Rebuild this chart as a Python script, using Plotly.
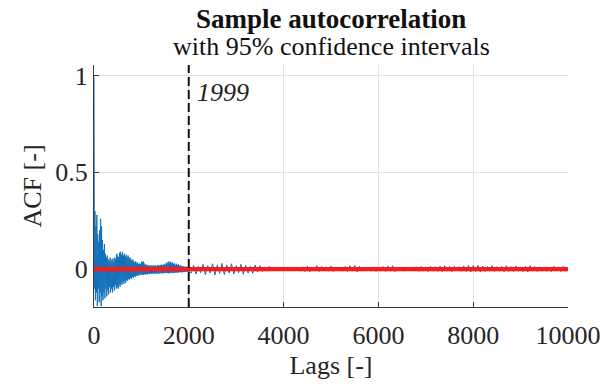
import plotly.graph_objects as go

# ---------------- data ----------------
# Sample ACF drawn as an envelope: upper / lower extreme per lag bin
lag_step_dense = 20
acf_hi_dense = [
    1.00, 0.30, 0.22, 0.28, 0.18, 0.14, 0.20, 0.26, 0.22, 0.15,
    0.10, 0.13, 0.08, 0.06, 0.07, 0.05, 0.04, 0.06, 0.05, 0.04,
    0.055, 0.04, 0.06, 0.05, 0.08, 0.07, 0.06, 0.085, 0.09, 0.075,
    0.09, 0.07, 0.08, 0.065, 0.075, 0.06, 0.07, 0.055, 0.06, 0.05,
    0.045, 0.05, 0.04, 0.035, 0.04, 0.03, 0.035, 0.025, 0.03, 0.025,
    0.04, 0.035, 0.04, 0.03, 0.02, 0.025, 0.018, 0.022, 0.016, 0.02,
    0.015, 0.02, 0.017, 0.02, 0.016, 0.02, 0.015, 0.019, 0.022, 0.018,
    0.02, 0.024, 0.02, 0.022, 0.026, 0.022, 0.03, 0.035, 0.028, 0.04,
    0.032, 0.038, 0.03, 0.035, 0.025, 0.03, 0.022, 0.028, 0.02, 0.025,
    0.018, 0.02, 0.016, 0.014, 0.016, 0.012, 0.014, 0.011, 0.013, 0.01,
    0.012,
]
acf_lo_dense = [
    -0.10, -0.16, -0.12, -0.19, -0.10, -0.17, -0.12, -0.19, -0.14, -0.16,
    -0.12, -0.15, -0.10, -0.14, -0.11, -0.13, -0.09, -0.12, -0.10, -0.12,
    -0.09, -0.11, -0.08, -0.10, -0.09, -0.10, -0.08, -0.09, -0.07, -0.08,
    -0.06, -0.075, -0.06, -0.07, -0.055, -0.06, -0.05, -0.055, -0.045, -0.05,
    -0.04, -0.045, -0.035, -0.04, -0.03, -0.035, -0.03, -0.032, -0.027, -0.03,
    -0.025, -0.03, -0.028, -0.025, -0.028, -0.024, -0.026, -0.022, -0.025, -0.022,
    -0.024, -0.02, -0.025, -0.022, -0.02, -0.024, -0.02, -0.023, -0.02, -0.022,
    -0.019, -0.022, -0.02, -0.021, -0.019, -0.02, -0.018, -0.02, -0.022, -0.018,
    -0.02, -0.017, -0.02, -0.018, -0.02, -0.016, -0.018, -0.016, -0.018, -0.015,
    -0.016, -0.014, -0.017, -0.014, -0.015, -0.013, -0.015, -0.012, -0.014, -0.012,
    -0.01,
]
lag_start_sparse = 2100
lag_step_sparse = 100
acf_hi_sparse = [
    0.02, 0.015, 0.025, 0.018, 0.028, 0.02, 0.03, 0.022, 0.028, 0.018,
    0.025, 0.02, 0.015, 0.022, 0.018, 0.012, 0.015,
    0.008, 0.006, 0.01, 0.007, 0.009, 0.008,
    0.012, 0.016, 0.01, 0.018, 0.014, 0.012, 0.016, 0.01, 0.008, 0.014,
    0.018, 0.02, 0.015, 0.012, 0.009, 0.008, 0.01, 0.014, 0.016, 0.018,
    0.012, 0.008, 0.01, 0.009, 0.012, 0.014, 0.012, 0.015, 0.013, 0.016,
    0.018, 0.014, 0.015, 0.013, 0.017, 0.02, 0.018, 0.02, 0.016, 0.014,
    0.018, 0.013, 0.015, 0.018, 0.014, 0.016, 0.012, 0.015, 0.018, 0.014,
    0.012, 0.01, 0.009, 0.015, 0.012, 0.014, 0.01,
]
acf_lo_sparse = [
    -0.02, -0.025, -0.018, -0.028, -0.02, -0.03, -0.022, -0.028, -0.02, -0.025,
    -0.018, -0.026, -0.02, -0.022, -0.015, -0.012, -0.01,
    -0.008, -0.007, -0.006, -0.009, -0.007, -0.008,
    -0.01, -0.012, -0.014, -0.01, -0.012, -0.009, -0.01, -0.012, -0.008, -0.01,
    -0.012, -0.01, -0.014, -0.01, -0.008, -0.01, -0.012, -0.01, -0.012, -0.01,
    -0.013, -0.009, -0.01, -0.008, -0.01, -0.011, -0.01, -0.012, -0.01, -0.011,
    -0.012, -0.01, -0.012, -0.009, -0.011, -0.012, -0.014, -0.012, -0.015, -0.012,
    -0.01, -0.012, -0.01, -0.013, -0.011, -0.012, -0.01, -0.012, -0.014, -0.01,
    -0.012, -0.01, -0.011, -0.013, -0.01, -0.012, -0.01,
]
conf_upper = 0.005
conf_lower = -0.005
max_lag = 10000
marked_lag = 1999
x_ticks = [0, 2000, 4000, 6000, 8000, 10000]
x_tick_text = ["0", "2000", "4000", "6000", "8000", "10000"]
y_ticks = [0, 0.5, 1]
y_tick_text = ["0", "0.5", "1"]

# ---------------- build envelope polyline ----------------
xs, ys = [], []
for i, (hi, lo) in enumerate(zip(acf_hi_dense, acf_lo_dense)):
    lag = i * lag_step_dense
    xs += [lag, lag + lag_step_dense / 2]
    ys += [hi, lo]
for i, (hi, lo) in enumerate(zip(acf_hi_sparse, acf_lo_sparse)):
    lag = lag_start_sparse + i * lag_step_sparse
    xs += [lag - lag_step_sparse / 2, lag]
    ys += [lo, hi]

FONT = "Liberation Serif, Times New Roman, serif"
BLUE = "#1570B8"
RED = "#FF1A1A"
AXC = "#3a3a3a"

fig = go.Figure()
fig.add_trace(go.Scatter(x=xs, y=ys, mode="lines",
                         line=dict(color=BLUE, width=1), showlegend=False))
for b in (conf_upper, conf_lower):
    fig.add_trace(go.Scatter(x=[0, max_lag], y=[b, b], mode="lines",
                             line=dict(color=RED, width=2.3), showlegend=False))

fig.add_shape(type="line", xref="x", yref="paper", x0=marked_lag, x1=marked_lag,
              y0=0, y1=1, line=dict(color="#111111", width=2, dash="9px,4px"))
fig.add_annotation(x=marked_lag, y=0.888, xref="x", yref="paper", text="<i>1999</i>",
                   showarrow=False, xanchor="left", yanchor="middle", xshift=6,
                   font=dict(family=FONT, size=26, color="#222222"))

fig.add_annotation(x=0.5, y=1.192, xref="paper", yref="paper",
                   text="<b>Sample autocorrelation</b>", showarrow=False,
                   xanchor="center", yanchor="middle",
                   font=dict(family=FONT, size=27, color="#111111"))
fig.add_annotation(x=0.5, y=1.075, xref="paper", yref="paper",
                   text="with 95% confidence intervals", showarrow=False,
                   xanchor="center", yanchor="middle",
                   font=dict(family=FONT, size=26, color="#111111"))

fig.update_layout(
    width=613, height=387,
    margin=dict(l=94, r=41, t=65, b=78),
    paper_bgcolor="white", plot_bgcolor="white",
    font=dict(family=FONT, size=26, color="#262626"),
    showlegend=False,
)
fig.update_xaxes(range=[0, max_lag], tickvals=x_ticks, ticktext=x_tick_text,
                 ticks="inside", ticklen=5, ticklabelstandoff=5,
                 tickcolor=AXC, showline=True, linecolor=AXC, linewidth=1.3,
                 showgrid=True, gridcolor="#e2e2e2", gridwidth=1, zeroline=False,
                 layer="below traces",
                 title=dict(text="Lags [-]", font=dict(family=FONT, size=26), standoff=6),
                 tickfont=dict(family=FONT, size=26))
fig.update_yaxes(range=[-0.195, 1.054], tickvals=y_ticks, ticktext=y_tick_text,
                 ticks="inside", ticklen=5, tickcolor=AXC, showline=True,
                 linecolor=AXC, linewidth=1.3, showgrid=True, gridcolor="#e2e2e2",
                 gridwidth=1, zeroline=False, layer="below traces",
                 title=dict(text="ACF [-]", font=dict(family=FONT, size=26), standoff=6),
                 tickfont=dict(family=FONT, size=26))

fig.write_html("out.html")
